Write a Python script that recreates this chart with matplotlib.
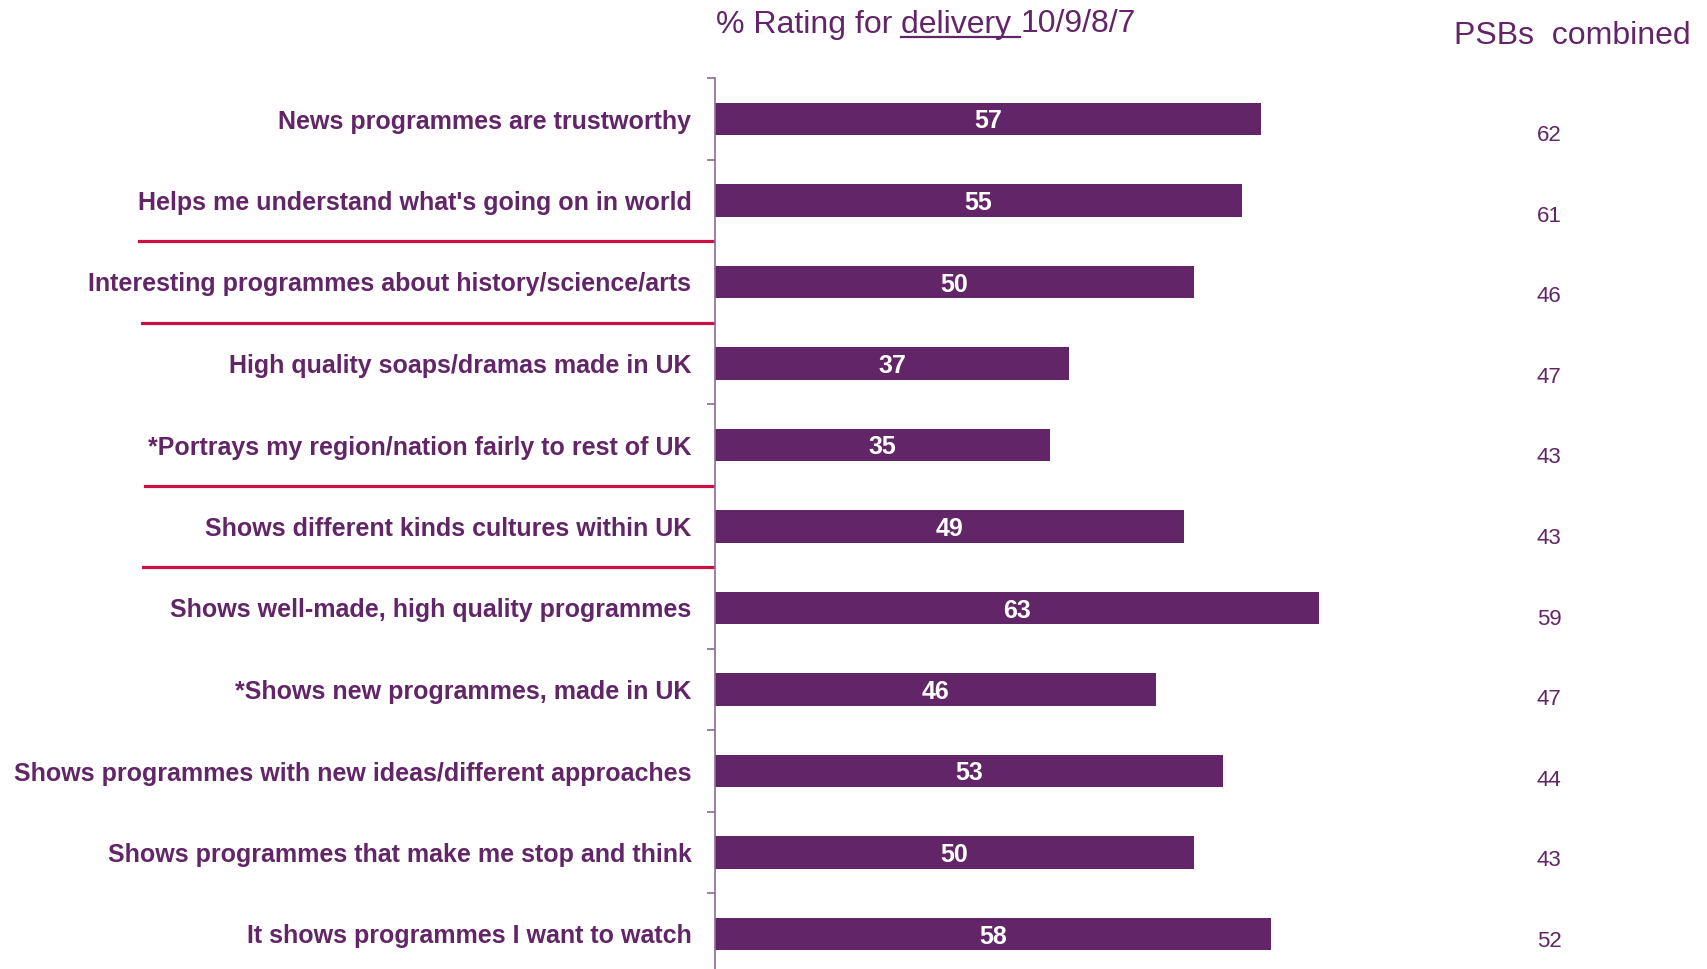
import matplotlib
matplotlib.use("Agg")
import matplotlib.pyplot as plt
import matplotlib.transforms as mtransforms
from matplotlib.lines import Line2D
import numpy as np

# data
statements = [
    "News programmes are trustworthy",
    "Helps me understand what's going on in world",
    "Interesting programmes about history/science/arts",
    "High quality soaps/dramas made in UK",
    "*Portrays my region/nation fairly to rest of UK",
    "Shows different kinds cultures within UK",
    "Shows well-made, high quality programmes",
    "*Shows new programmes, made in UK",
    "Shows programmes with new ideas/different approaches",
    "Shows programmes that make me stop and think",
    "It shows programmes I want to watch",
]
delivery = [57, 55, 50, 37, 35, 49, 63, 46, 53, 50, 58]
psbs_combined = [62, 61, 46, 47, 43, 43, 59, 47, 44, 43, 52]
separators = [1.5, 2.5, 4.5, 5.5]  # red dividers between groups

PURPLE = "#622567"
RED = "#cc0f45"

plt.rcParams['font.family'] = ['Liberation Sans', 'DejaVu Sans']

W, H = 1708, 969
fig = plt.figure(figsize=(W / 100, H / 100), dpi=100)

# axes: left spine at x=715px, top at y=78px, row height 81.5px, 9.58px per unit
left = 715 / W
top = 78.25 / H
row = 81.5 / H
n = len(statements)
bottom = 1 - top - n * row
ax_w = 9.58 * 100 / W
ax = fig.add_axes([left, bottom, ax_w, n * row])

y = np.arange(n)
ax.barh(y, delivery, height=0.4, color=PURPLE)
ax.set_xlim(0, 100)
ax.set_ylim(n - 0.5, -0.5)

for yi, v in zip(y, delivery):
    ax.text(v / 2, yi, str(v), color="white", fontsize=18, fontweight="bold",
            ha="center", va="center_baseline")

for s in ["top", "right", "bottom"]:
    ax.spines[s].set_visible(False)
ax.spines["left"].set_color("#8c6a94")
ax.spines["left"].set_linewidth(1.2)
ax.set_xticks([])
ax.set_yticks(y)
ax.set_yticklabels(statements, fontsize=18, fontweight="bold", color=PURPLE)
for lab in ax.get_yticklabels():
    lab.set_verticalalignment("center_baseline")
ax.tick_params(axis="y", which="major", length=0, pad=17)
ax.set_yticks(np.arange(-0.5, n, 1), minor=True)
ax.tick_params(axis="y", which="minor", length=6, width=1.2, color="#8c6a94")

# red group separators spanning the label column
sep_start = [139 / W, 142 / W, 145 / W, 143 / W]
sep_end = (left * W - 2) / W
trans = mtransforms.blended_transform_factory(fig.transFigure, ax.transData)
for sy, sx in zip(separators, sep_start):
    ax.add_line(Line2D([sx, sep_end], [sy, sy], transform=trans, color=RED,
                       linewidth=2.3, clip_on=False))

# PSBs combined column (separate table, rows 80.6px apart from y=133px)
for i, v in enumerate(psbs_combined):
    fig.text(1549 / W, 1 - (133 + 80.6 * i) / H, str(v), fontsize=16,
             color=PURPLE, ha="center", va="center_baseline")

fig.text(1691 / W, 1 - 33 / H, "PSBs  combined", fontsize=23, color=PURPLE,
         ha="right", va="center_baseline")

# title with underlined word
ty = 1 - 21 / H
t1 = fig.text(716 / W, ty, "% Rating for ", fontsize=23, color=PURPLE,
              ha="left", va="center_baseline")
fig.canvas.draw()
r = fig.canvas.get_renderer()
bb1 = t1.get_window_extent(r)
t2 = fig.text(bb1.x1 / W, ty, "delivery ", fontsize=23, color=PURPLE,
              ha="left", va="center_baseline")
bb2 = t2.get_window_extent(r)
t3 = fig.text(bb2.x1 / W, ty, "10/9/8/7", fontsize=23, color=PURPLE,
              ha="left", va="center_baseline")
uy = (bb2.y0 + 3) / H
fig.add_artist(Line2D([bb2.x0 / W, bb2.x1 / W], [uy, uy], transform=fig.transFigure,
                      color=PURPLE, linewidth=1.6))

fig.savefig("out.png", dpi=100)
